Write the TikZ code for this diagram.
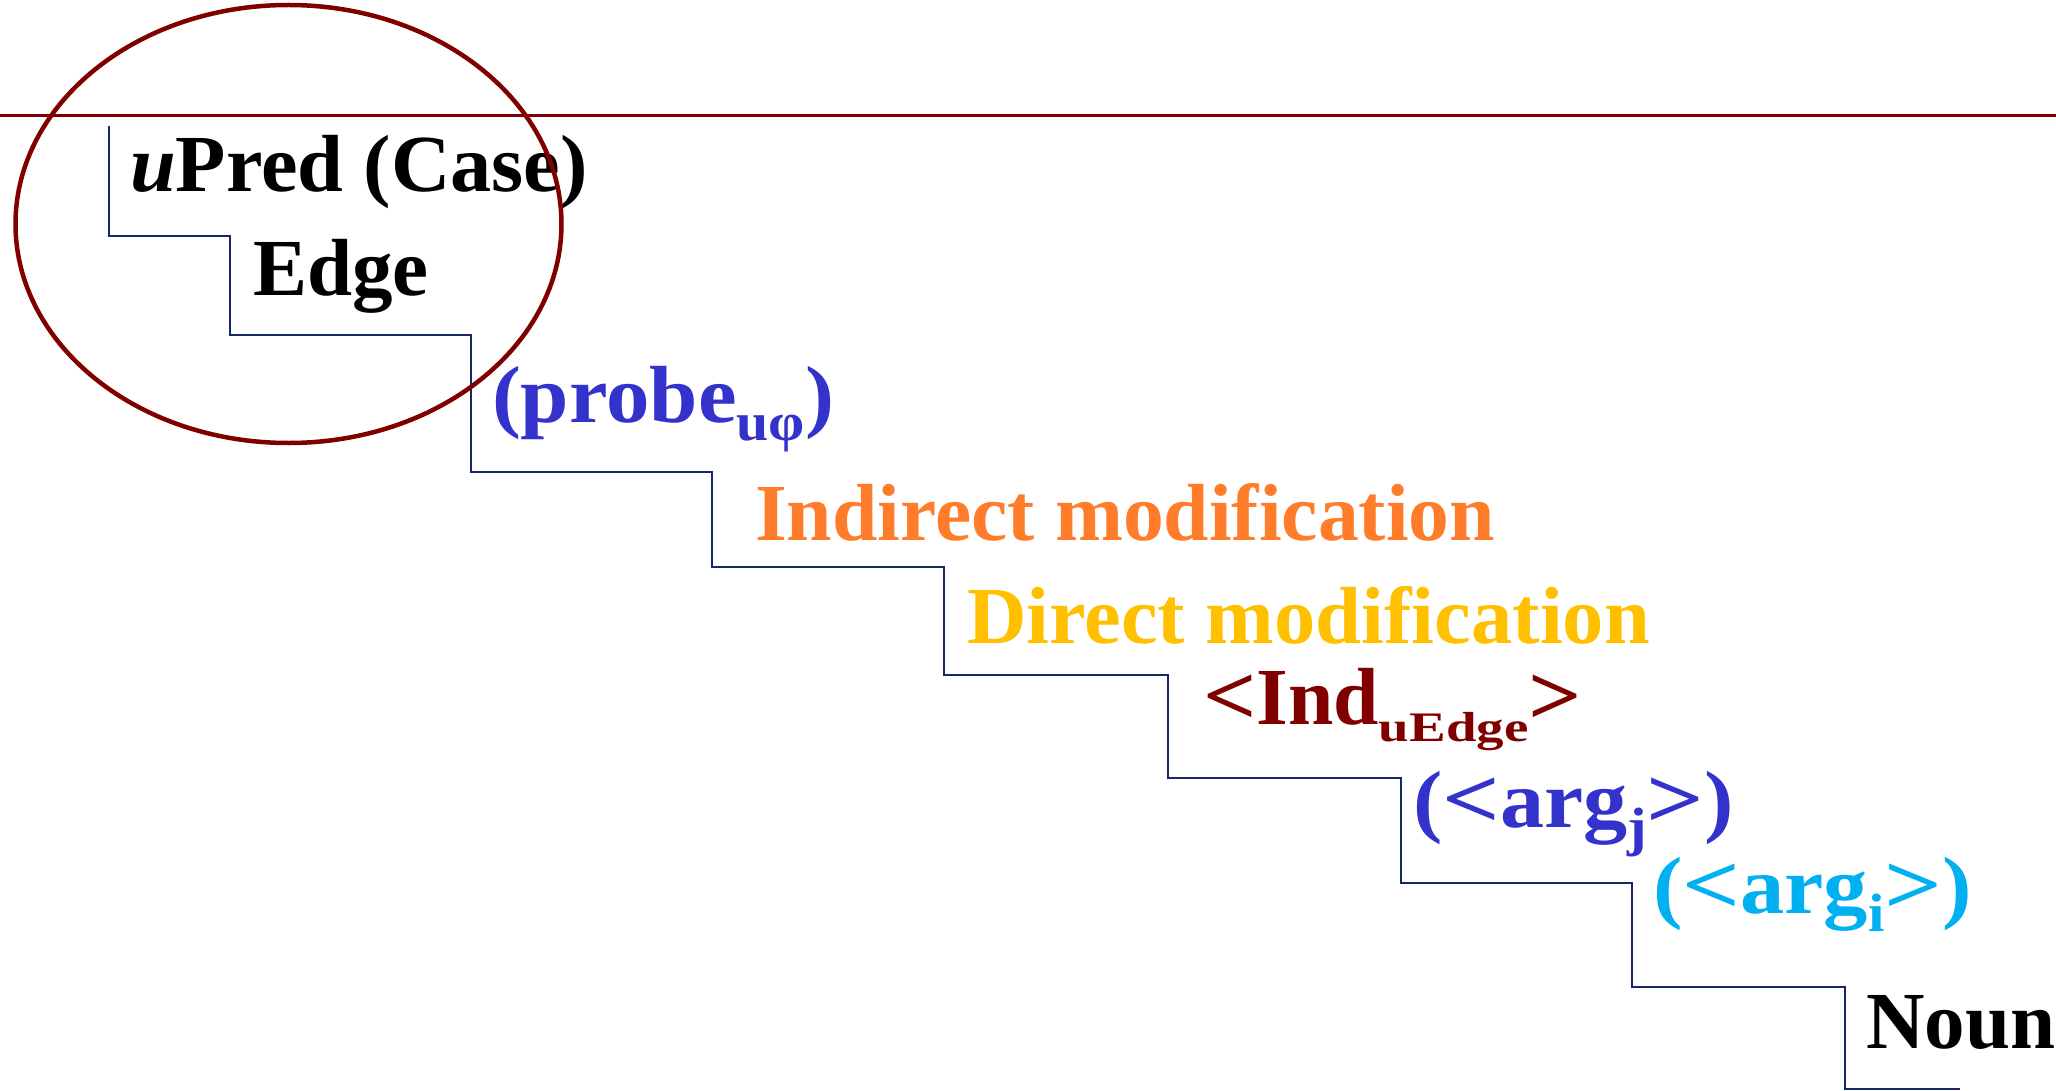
\documentclass[tikz,border=0pt]{standalone}
\usepackage{fontspec}
\usepackage{graphicx}
\setmainfont{Liberation Serif}
\definecolor{stairblue}{RGB}{20,40,100}
\definecolor{darkred}{RGB}{128,0,0}
\definecolor{probeblue}{RGB}{51,51,204}
\definecolor{orangec}{RGB}{255,125,42}
\definecolor{goldc}{RGB}{255,192,0}
\definecolor{skyc}{RGB}{0,176,240}
\newcommand\lowsub[1]{\raisebox{-17pt}{\fontsize{42}{42}\selectfont\scalebox{1.3}[1]{#1}}}
\newcommand\bigsub[1]{\raisebox{-18pt}{\fontsize{54}{54}\selectfont #1}}
\newcommand\lt{\scalebox{1.15}[1.05]{<}}
\newcommand\gt{\scalebox{1.15}[1.05]{>}}
\newcommand\fitw[2]{\resizebox{#1}{\height}{#2}}
\begin{document}
\begin{tikzpicture}[x=1pt,y=-1pt,
  lbl/.style={anchor=base west,inner sep=0pt,outer sep=0pt,font=\fontsize{81}{90}\selectfont\bfseries},
  stair/.style={draw=stairblue,line width=2pt},
  redline/.style={draw=darkred,line width=2.4pt},
  ring/.style={draw=darkred,line width=4.5pt}]
\useasboundingbox (0,0) rectangle (2056,1091);
% horizontal rule
\coordinate (hl) at (0,115.5);
\coordinate (hr) at (2056,115.5);
\draw[redline] (hl) -- (hr);
% staircase
\draw[stair] (108.5,126) -- (108.5,236) -- (230,236) -- (230,335) -- (471,335) -- (471,472)
  -- (712,472) -- (712,567) -- (944,567) -- (944,675) -- (1168,675) -- (1168,778)
  -- (1401,778) -- (1401,883) -- (1632,883) -- (1632,987) -- (1845,987) -- (1845,1089) -- (1960,1089);
% labels
\node[lbl] (upred) at (130,192) {\fitw{458pt}{\textit{u}Pred (Case)}};
\node[lbl] (edge) at (253,296) {Edge};
\node[lbl,text=probeblue] (probe) at (492,422) {\fitw{342pt}{(probe\bigsub{u\symbol{"03C6}})}};
\node[lbl,text=orangec] (indirect) at (755,540) {\fitw{740pt}{Indirect modification}};
\node[lbl,text=goldc] (direct) at (967,643) {\fitw{683pt}{Direct modification}};
\node[lbl,text=darkred] (ind) at (1203,724) {\fitw{379pt}{\lt Ind\lowsub{uEdge}\gt}};
\node[lbl,text=probeblue] (argj) at (1413,827) {\fitw{321pt}{(\lt arg\bigsub{j}\gt)}};
\node[lbl,text=skyc] (argi) at (1653,913) {\fitw{319pt}{(\lt arg\bigsub{i}\gt)}};
\node[lbl] (noun) at (1866,1048) {Noun};
% ellipse
\draw[ring] (288.5,224) ellipse [x radius=273, y radius=219];
\end{tikzpicture}
\end{document}
